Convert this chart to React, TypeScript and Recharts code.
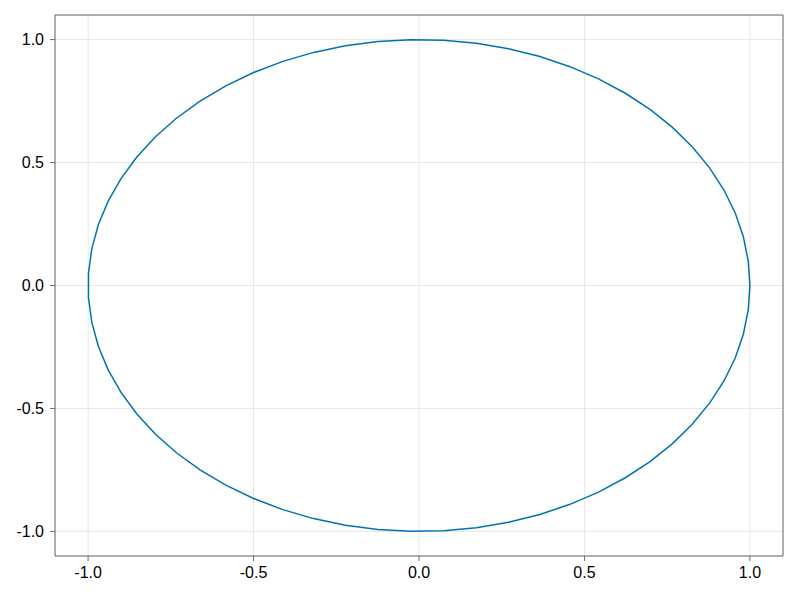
import { LineChart, Line, XAxis, YAxis, CartesianGrid, ReferenceLine } from 'recharts'

const FONT = "'Liberation Sans', Arial, sans-serif"

// vertices of the closed curve (64 points, first == last)
const xs = [
  1, 0.995, 0.9802, 0.9556, 0.9215, 0.8782, 0.8262, 0.766, 0.6982, 0.6235, 0.5424, 0.4562, 0.3653, 0.2708, 0.1736, 0.0747,
  -0.0249, -0.1243, -0.2225, -0.3185, -0.4113, -0.5, -0.5837, -0.6617, -0.7331, -0.7971, -0.8533, -0.901, -0.9397, -0.9691, -0.9888, -0.9988,
  -0.9988, -0.9888, -0.9691, -0.9397, -0.901, -0.8533, -0.7971, -0.7331, -0.6617, -0.5837, -0.5, -0.4113, -0.3185, -0.2225, -0.1243, -0.0249,
  0.0747, 0.1736, 0.2708, 0.3653, 0.4562, 0.5424, 0.6235, 0.6982, 0.766, 0.8262, 0.8782, 0.9215, 0.9556, 0.9802, 0.995, 1,
]
const ys = [
  0, 0.0996, 0.1981, 0.2948, 0.3883, 0.4783, 0.5633, 0.6428, 0.7159, 0.7818, 0.8401, 0.8899, 0.9309, 0.9626, 0.9848, 0.9972,
  0.9997, 0.9922, 0.9749, 0.9479, 0.9115, 0.866, 0.8119, 0.7498, 0.6802, 0.6038, 0.5214, 0.4339, 0.342, 0.2468, 0.149, 0.0498,
  -0.0498, -0.149, -0.2468, -0.342, -0.4339, -0.5214, -0.6038, -0.6802, -0.7498, -0.8119, -0.866, -0.9115, -0.9479, -0.9749, -0.9922, -0.9997,
  -0.9972, -0.9848, -0.9626, -0.9309, -0.8899, -0.8401, -0.7818, -0.7159, -0.6428, -0.5633, -0.4783, -0.3883, -0.2948, -0.1981, -0.0996, 0,
]
const xTicks = [-1, -0.5, 0, 0.5, 1]
const yTicks = [-1, -0.5, 0, 0.5, 1]
const xDomain = [-1.1, 1.1]
const yDomain = [-1.1, 1.1]

const data = xs.map((x, i) => ({ x, y: ys[i] }))

const FRAME = '#6a6a6a'
const TICK = { fill: '#000', fontSize: 16, fontFamily: FONT }

export default function App() {
  return (
    <div style={{ position: 'absolute', left: 0, top: 0, width: 800, height: 600, background: '#fff' }}>
      <LineChart width={800} height={600} data={data} margin={{ top: 15, right: 17, bottom: 0, left: 0 }}>
        <CartesianGrid stroke="#e6e6e6" strokeWidth={1} />
        <XAxis
          dataKey="x" type="number" domain={xDomain} ticks={xTicks} allowDataOverflow
          tickFormatter={(v: number) => v.toFixed(1)}
          tick={TICK} tickSize={5} tickMargin={6} height={44}
          axisLine={{ stroke: FRAME }} tickLine={{ stroke: FRAME }}
        />
        <YAxis
          type="number" domain={yDomain} ticks={yTicks} allowDataOverflow
          tickFormatter={(v: number) => v.toFixed(1)}
          tick={TICK} tickSize={5} tickMargin={6} width={55}
          axisLine={{ stroke: FRAME }} tickLine={{ stroke: FRAME }}
        />
        {/* top and right spines */}
        <ReferenceLine y={yDomain[1]} stroke={FRAME} strokeWidth={1} />
        <ReferenceLine x={xDomain[1]} stroke={FRAME} strokeWidth={1} />
        <Line dataKey="y" stroke="#0072b2" strokeWidth={1.5} dot={false} isAnimationActive={false} />
      </LineChart>
    </div>
  )
}
